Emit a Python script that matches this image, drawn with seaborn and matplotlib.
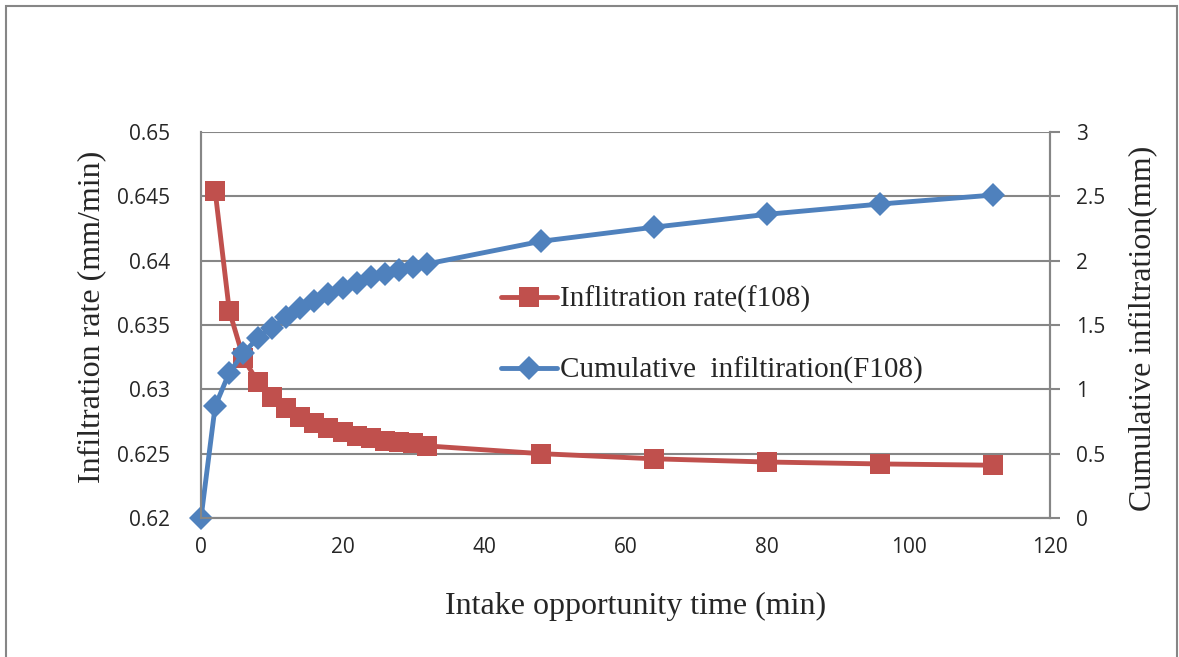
import pandas as pd
import seaborn as sns
import matplotlib.pyplot as plt
from matplotlib.patches import Rectangle

# Intake opportunity time (min)
time_rate = [2, 4, 6, 8, 10, 12, 14, 16, 18, 20, 22, 24, 26, 28, 30, 32, 48, 64, 80, 96, 112]
time_cum = [0, 2, 4, 6, 8, 10, 12, 14, 16, 18, 20, 22, 24, 26, 28, 30, 32, 48, 64, 80, 96, 112]

# Infiltration rate f108 (mm/min)
rate = [0.6454, 0.6361, 0.6324, 0.6306, 0.6294, 0.62855, 0.62785, 0.6274, 0.6270, 0.6267,
        0.62637, 0.6262, 0.6260, 0.6259, 0.6258, 0.6256, 0.6250, 0.6246, 0.62435, 0.6242, 0.6241]

# Cumulative infiltration F108 (mm)
cumulative = [0, 0.87, 1.13, 1.28, 1.40, 1.48, 1.56, 1.63, 1.69, 1.74, 1.79, 1.83, 1.87,
              1.90, 1.93, 1.95, 1.975, 2.15, 2.26, 2.36, 2.44, 2.51]

df_rate = pd.DataFrame({"t": time_rate, "v": rate})
df_cum = pd.DataFrame({"t": time_cum, "v": cumulative})

sns.set_style("white")
tick_font = ["Open Sans", "Liberation Sans", "DejaVu Sans"]
serif = ["Liberation Serif", "DejaVu Serif"]
plt.rcParams["font.family"] = tick_font

red = "#C0504D"
blue = "#4F81BD"
grid_c = "#868686"

fig = plt.figure(figsize=(11.79, 6.57), dpi=100)
ax = fig.add_axes([0.1705, 0.2116, 0.7201, 0.5875])
ax2 = ax.twinx()

sns.lineplot(data=df_rate, x="t", y="v", ax=ax, color=red, lw=3.5, marker="s",
             markersize=14, markeredgewidth=0, label="Inflitration rate(f108)", legend=False)
sns.lineplot(data=df_cum, x="t", y="v", ax=ax2, color=blue, lw=3.5, marker="D",
             markersize=12, markeredgewidth=0, label="Cumulative  infiltiration(F108)", legend=False,
             clip_on=False)

ax.set_xlim(0, 120)
ax.set_ylim(0.62, 0.65)
ax2.set_ylim(0, 3)
ax.set_xticks(range(0, 121, 20))
ax.set_yticks([0.62, 0.625, 0.63, 0.635, 0.64, 0.645, 0.65])
ax.set_yticklabels(["0.62", "0.625", "0.63", "0.635", "0.64", "0.645", "0.65"])
ax2.set_yticks([0, 0.5, 1, 1.5, 2, 2.5, 3])
ax2.set_yticklabels(["0", "0.5", "1", "1.5", "2", "2.5", "3"])

ax.grid(axis="y", color=grid_c, lw=1.5)
ax.set_axisbelow(True)
for a in (ax, ax2):
    for s in a.spines.values():
        s.set_color(grid_c)
        s.set_linewidth(1.5)
    a.spines["top"].set_visible(False)

ax.tick_params(axis="both", length=0, labelsize=15, pad=22)
ax.tick_params(axis="x", pad=14)
ax2.tick_params(axis="y", length=7, width=1.5, color=grid_c, direction="out", labelsize=15, pad=12)

ax.set_xlabel("Intake opportunity time (min)", fontsize=23, family=serif, labelpad=24)
ax.xaxis.label.set_x(0.512)
ax.set_ylabel("Infiltration rate (mm/min)", fontsize=23, family=serif, labelpad=8)
ax.yaxis.label.set_y(0.52)
ax2.set_ylabel("Cumulative infiltration(mm)", fontsize=23, family=serif, labelpad=16)
ax2.yaxis.label.set_y(0.49)

h1, l1 = ax.get_legend_handles_labels()
h2, l2 = ax2.get_legend_handles_labels()
ax2.legend(h1 + h2, l1 + l2, loc="center left", bbox_to_anchor=(0.34, 0.474), frameon=False,
           prop={"family": serif, "size": 21}, handlelength=1.9, handletextpad=0.1,
           labelspacing=1.5, borderaxespad=0)

# outer chart frame
fig.patches.append(Rectangle((6 / 1179, -0.05), 1171 / 1179, 1.05 - 6 / 657,
                             transform=fig.transFigure, fill=False, edgecolor=grid_c, lw=1.5))

fig.savefig("out.png", dpi=100)
